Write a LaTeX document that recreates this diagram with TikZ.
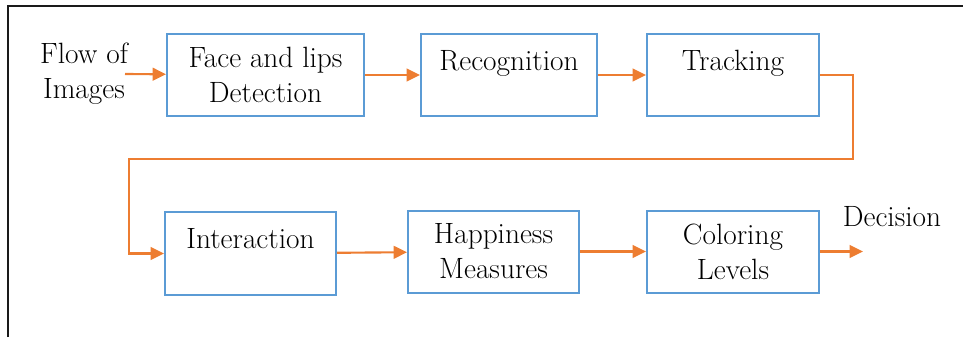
\documentclass[tikz,border=0pt]{standalone}
\usepackage{tikz}
\usetikzlibrary{arrows.meta,positioning}
\definecolor{boxblue}{RGB}{91,155,213}
\definecolor{arrorange}{RGB}{237,125,49}
\definecolor{framegray}{RGB}{26,26,26}

\tikzset{
  stage/.style={draw=boxblue, line width=1.5pt, minimum height=61.5pt,
    inner sep=0pt, align=center},
  oneline/.style={text height=15pt, text depth=22.5pt},
  flow/.style={draw=arrorange, line width=1.6pt,
    -{Triangle[length=10pt,width=9.5pt]}},
  every node/.style={font=\fontsize{22}{26.25}\selectfont}
}

\begin{document}
\begin{tikzpicture}[x=0.75pt,y=-0.75pt]
  \useasboundingbox (0,0) rectangle (963,337);
  \draw[framegray, line width=1.8pt] (8,337) -- (8,6) -- (963,6);

  % first row
  \node[align=center] (images) at (84,74) {Flow of\\Images};
  \node[stage, minimum width=147.75pt] (face) at (265.5,75) {Face and lips\\Detection};
  \node[stage, oneline, minimum width=132pt, right=41.25pt of face] (recog) {Recognition};
  \node[stage, oneline, minimum width=129pt, right=36pt of recog] (track) {Tracking};

  % second row
  \node[stage, oneline, minimum width=128.25pt, minimum height=62.25pt] (inter) at (250.5,253.5) {Interaction};
  \node[stage, minimum width=128.25pt] (happy) at (493.5,251.5) {Happiness\\Measures};
  \node[stage, minimum width=129pt, right=49.5pt of happy] (color) {Coloring\\Levels};
  \node[anchor=base] (decision) at (892,226) {Decision};

  \coordinate (in) at (125,74);
  \coordinate (turnR) at (853,159);
  \coordinate (turnL) at (129,159);
  \coordinate (out) at (863,251.5);

  \draw[flow] (in) -- (face);
  \draw[flow] (face) -- (recog);
  \draw[flow] (recog) -- (track);
  \draw[flow] (track.east) -| (turnR) -- (turnL) |- (inter.west);
  \draw[flow] (inter) -- (happy);
  \draw[flow] (happy) -- (color);
  \draw[flow] (color.east) -- (out);
\end{tikzpicture}
\end{document}
